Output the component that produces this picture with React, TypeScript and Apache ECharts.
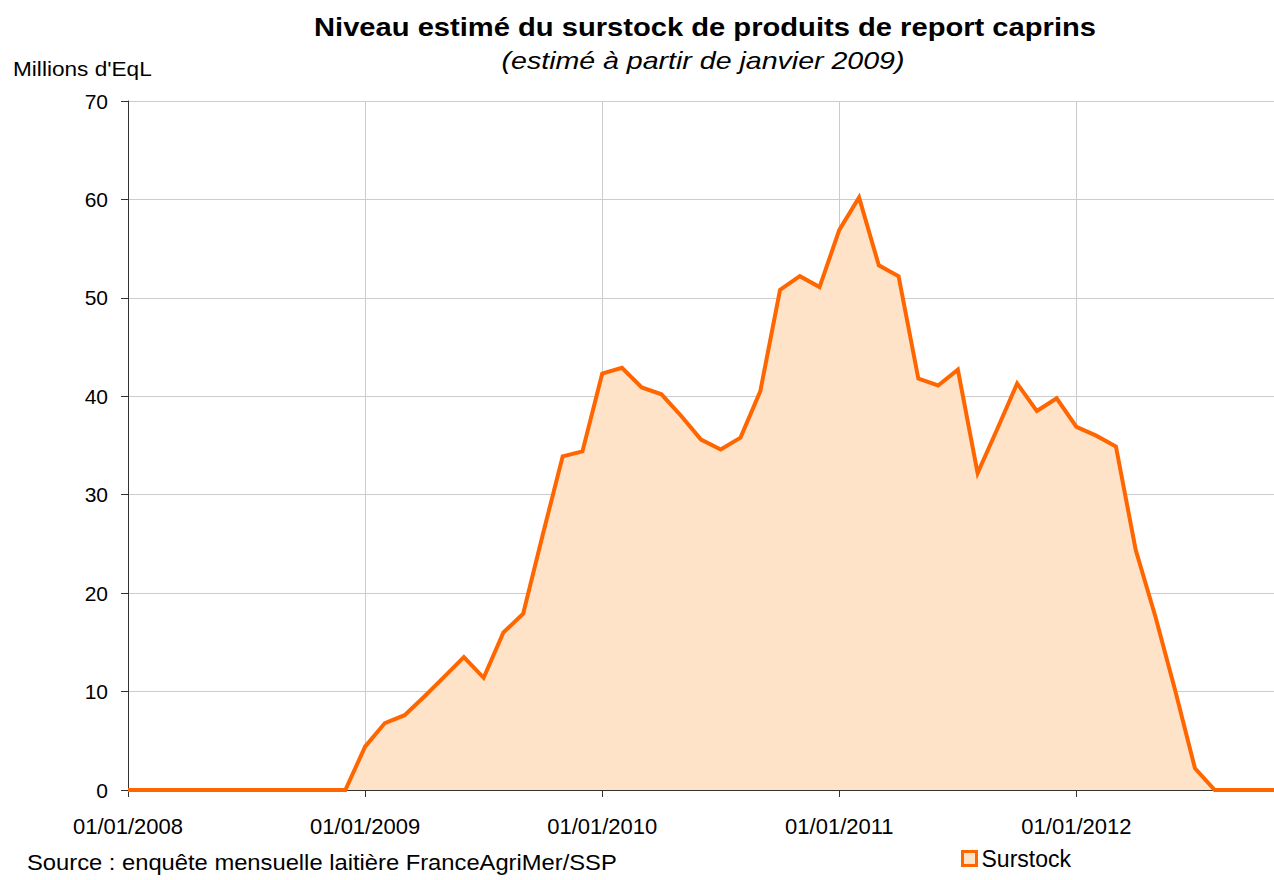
import React, { useEffect, useRef } from "react";
import * as echarts from "echarts";

const years = [2008, 2009, 2010, 2011, 2012];
const lastMonthCount = 11; // Jan..Nov 2012
const categories: string[] = [];
years.forEach((y, yi) => {
  const n = yi === years.length - 1 ? lastMonthCount : 12;
  for (let m = 1; m <= n; m++) {
    categories.push(`01/${String(m).padStart(2, "0")}/${y}`);
  }
});

const values2008 = [0, 0, 0, 0, 0, 0, 0, 0, 0, 0, 0, 0];
const values2009 = [4.4, 6.8, 7.6, 9.5, 11.5, 13.5, 11.4, 16.0, 17.9, 26.0, 33.9, 34.4];
const values2010 = [42.3, 42.9, 40.9, 40.2, 38.0, 35.6, 34.6, 35.8, 40.5, 50.8, 52.2, 51.1];
const values2011 = [56.9, 60.2, 53.3, 52.2, 41.8, 41.1, 42.7, 32.2, 36.7, 41.3, 38.5, 39.8];
const values2012 = [36.9, 36.0, 34.9, 24.4, 17.6, 10.1, 2.2, 0, 0, 0, 0];
const surstock = [...values2008, ...values2009, ...values2010, ...values2011, ...values2012];

const yTicks = [0, 10, 20, 30, 40, 50, 60, 70];

const FONT = "'Liberation Sans', Arial, sans-serif";

export default function App() {
  const ref = useRef<HTMLDivElement>(null);
  useEffect(() => {
    document.body.style.margin = "0";
    const chart = echarts.init(ref.current!, null, { renderer: "svg" });
    const isYear = (i: number) => i % 12 === 0;
    chart.setOption({
      animation: false,
      backgroundColor: "#ffffff",
      textStyle: { fontFamily: FONT },
      grid: { left: 128, right: 0, top: 101, bottom: 90, containLabel: false },
      graphic: [
        {
          type: "text",
          x: 705,
          y: 27,
          scaleX: 1.166,
          style: {
            text: "Niveau estimé du surstock de produits de report caprins",
            font: `bold 25px ${FONT}`,
            fill: "#000",
            textAlign: "center",
            textVerticalAlign: "middle",
          },
        },
        {
          type: "text",
          x: 703,
          y: 61,
          scaleX: 1.19,
          style: {
            text: "(estimé à partir de janvier 2009)",
            font: `italic 24px ${FONT}`,
            fill: "#000",
            textAlign: "center",
            textVerticalAlign: "middle",
          },
        },
        {
          type: "text",
          x: 13,
          y: 69,
          scaleX: 1.077,
          style: {
            text: "Millions d'EqL",
            font: `21px ${FONT}`,
            fill: "#000",
            textAlign: "left",
            textVerticalAlign: "middle",
          },
        },
        {
          type: "text",
          x: 27,
          y: 862,
          scaleX: 1.08,
          style: {
            text: "Source : enquête mensuelle laitière FranceAgriMer/SSP",
            font: `22px ${FONT}`,
            fill: "#000",
            textAlign: "left",
            textVerticalAlign: "middle",
          },
        },
      ],
      legend: {
        show: true,
        left: 956,
        top: 842,
        icon: "rect",
        itemWidth: 14,
        itemHeight: 14,
        itemGap: 6,
        itemStyle: { color: "#FFE3C9", borderColor: "#FF6600", borderWidth: 3 },
        textStyle: { fontSize: 23, color: "#000", fontFamily: FONT },
        data: ["Surstock"],
      },
      xAxis: {
        type: "category",
        data: categories,
        boundaryGap: false,
        axisLine: { show: true, lineStyle: { color: "#333", width: 1 } },
        axisTick: {
          show: true,
          interval: (i: number) => isYear(i),
          length: 7,
          lineStyle: { color: "#333" },
        },
        axisLabel: {
          interval: (i: number) => isYear(i),
          formatter: (v: string) => v.replace(/^01\/\d\d\//, "01/01/"),
          fontSize: 22,
          color: "#000",
          margin: 25,
          fontFamily: FONT,
        },
        splitLine: {
          show: true,
          interval: (i: number) => isYear(i),
          lineStyle: { color: "#cccccc", width: 1 },
        },
      },
      yAxis: {
        type: "value",
        min: yTicks[0],
        max: yTicks[yTicks.length - 1],
        interval: 10,
        axisLine: { show: true, lineStyle: { color: "#333", width: 1 } },
        axisTick: { show: true, length: 7, lineStyle: { color: "#333" } },
        axisLabel: { fontSize: 21, color: "#000", margin: 20, fontFamily: FONT },
        splitLine: { show: true, lineStyle: { color: "#cccccc", width: 1 } },
      },
      series: [
        {
          name: "Surstock",
          type: "line",
          data: surstock,
          showSymbol: false,
          symbol: "none",
          lineStyle: { color: "#FF6600", width: 4, join: "miter" },
          itemStyle: { color: "#FF6600" },
          areaStyle: { color: "#FFE3C9", opacity: 1 },
          z: 3,
        },
      ],
    });
    return () => chart.dispose();
  }, []);
  return <div ref={ref} style={{ width: 1274, height: 880 }} />;
}
